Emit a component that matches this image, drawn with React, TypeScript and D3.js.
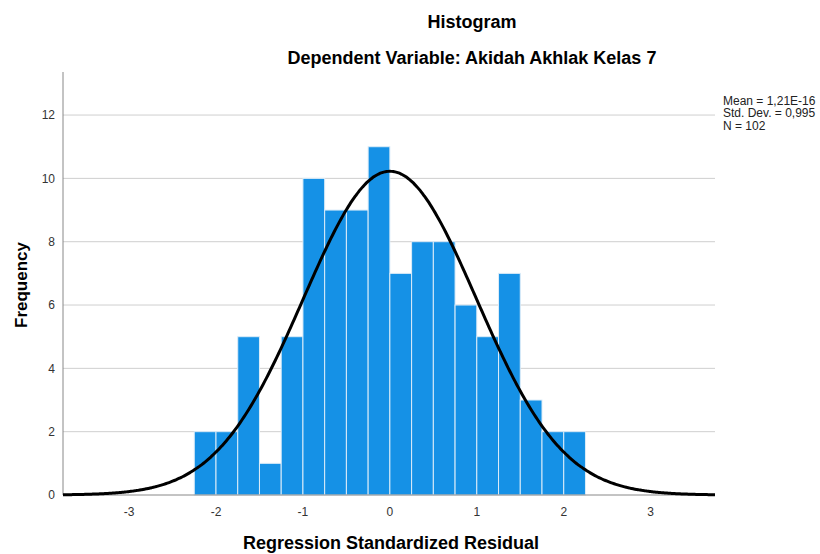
import { useEffect, useRef } from 'react';
import * as d3 from 'd3';

// histogram bins (lower edges) and counts
const binStarts = [-2.25, -2, -1.75, -1.5, -1.25, -1, -0.75, -0.5, -0.25, 0, 0.25, 0.5, 0.75, 1, 1.25, 1.5, 1.75, 2];
const counts = [2, 2, 5, 1, 5, 10, 9, 9, 11, 7, 8, 8, 6, 5, 7, 3, 2, 2];
const binWidth = 0.25;
const xTicks = [-3, -2, -1, 0, 1, 2, 3];
const yTicks = [0, 2, 4, 6, 8, 10, 12];
const stats = { mean: 1.21e-16, sd: 0.995, n: 102 };
const legendLines = ['Mean = 1,21E-16', 'Std. Dev. = 0,995', 'N = 102'];

export default function App() {
  const svgRef = useRef<SVGSVGElement>(null);

  useEffect(() => {
    if (!svgRef.current) return;
    const svg = d3.select(svgRef.current);
    svg.selectAll('*').remove();

    const font = 'Arial, "Liberation Sans", sans-serif';
    const left = 63, right = 715, top = 72, bottom = 495;

    const x = d3.scaleLinear().domain([-3.76, 3.74]).range([left, right]);
    const y = d3.scaleLinear().domain([0, 13.36]).range([bottom, top]);

    // gridlines
    svg.append('g')
      .selectAll('line')
      .data(yTicks.filter(d => d > 0))
      .join('line')
      .attr('x1', left).attr('x2', right)
      .attr('y1', d => y(d)).attr('y2', d => y(d))
      .attr('stroke', '#cfcfcf').attr('stroke-width', 1);

    // bars
    svg.append('g')
      .selectAll('rect')
      .data(binStarts.map((b, i) => ({ b, c: counts[i] })))
      .join('rect')
      .attr('x', d => x(d.b))
      .attr('y', d => y(d.c))
      .attr('width', d => x(d.b + binWidth) - x(d.b))
      .attr('height', d => y(0) - y(d.c))
      .attr('fill', '#1591e6')
      .attr('stroke', '#dcecf8')
      .attr('stroke-width', 1);

    // axes lines
    svg.append('line')
      .attr('x1', left).attr('x2', left).attr('y1', top).attr('y2', bottom)
      .attr('stroke', '#888').attr('stroke-width', 1);
    svg.append('line')
      .attr('x1', left).attr('x2', right).attr('y1', bottom).attr('y2', bottom)
      .attr('stroke', '#888').attr('stroke-width', 1);

    // normal curve
    const scale = stats.n * binWidth;
    const pts = d3.range(-3.76, 3.745, 0.02).map(v => {
      const z = (v - stats.mean) / stats.sd;
      return [v, scale * Math.exp(-0.5 * z * z) / (stats.sd * Math.sqrt(2 * Math.PI))];
    });
    svg.append('path')
      .attr('d', d3.line<number[]>().x(d => x(d[0])).y(d => y(d[1])).curve(d3.curveBasis)(pts))
      .attr('fill', 'none')
      .attr('stroke', '#000')
      .attr('stroke-width', 3);

    // tick labels
    svg.append('g')
      .selectAll('text')
      .data(yTicks)
      .join('text')
      .attr('x', left - 8)
      .attr('y', d => y(d))
      .attr('dy', '0.35em')
      .attr('text-anchor', 'end')
      .attr('font-family', font).attr('font-size', 12).attr('fill', '#333')
      .text(d => d);

    svg.append('g')
      .selectAll('text')
      .data(xTicks)
      .join('text')
      .attr('x', d => x(d))
      .attr('y', bottom + 17)
      .attr('dy', '0.35em')
      .attr('text-anchor', 'middle')
      .attr('font-family', font).attr('font-size', 12).attr('fill', '#333')
      .text(d => d);

    // titles
    svg.append('text')
      .attr('x', 472).attr('y', 28)
      .attr('text-anchor', 'middle')
      .attr('font-family', font).attr('font-size', 18).attr('font-weight', 'bold')
      .text('Histogram');
    svg.append('text')
      .attr('x', 472).attr('y', 64)
      .attr('text-anchor', 'middle')
      .attr('font-family', font).attr('font-size', 18).attr('font-weight', 'bold')
      .text('Dependent Variable: Akidah Akhlak Kelas 7');

    svg.append('text')
      .attr('x', 391).attr('y', 549)
      .attr('text-anchor', 'middle')
      .attr('font-family', font).attr('font-size', 18).attr('font-weight', 'bold')
      .text('Regression Standardized Residual');

    svg.append('text')
      .attr('transform', 'translate(27,285) rotate(-90)')
      .attr('text-anchor', 'middle')
      .attr('font-family', font).attr('font-size', 17).attr('font-weight', 'bold')
      .text('Frequency');

    // legend
    svg.append('g')
      .selectAll('text')
      .data(legendLines)
      .join('text')
      .attr('x', 723)
      .attr('y', (d, i) => 104.5 + i * 12.8)
      .attr('font-family', font).attr('font-size', 12).attr('fill', '#222')
      .text(d => d);
  }, []);

  return (
    <svg
      ref={svgRef}
      width={820}
      height={554}
      style={{ position: 'absolute', left: 0, top: 0, background: '#fff' }}
    />
  );
}
